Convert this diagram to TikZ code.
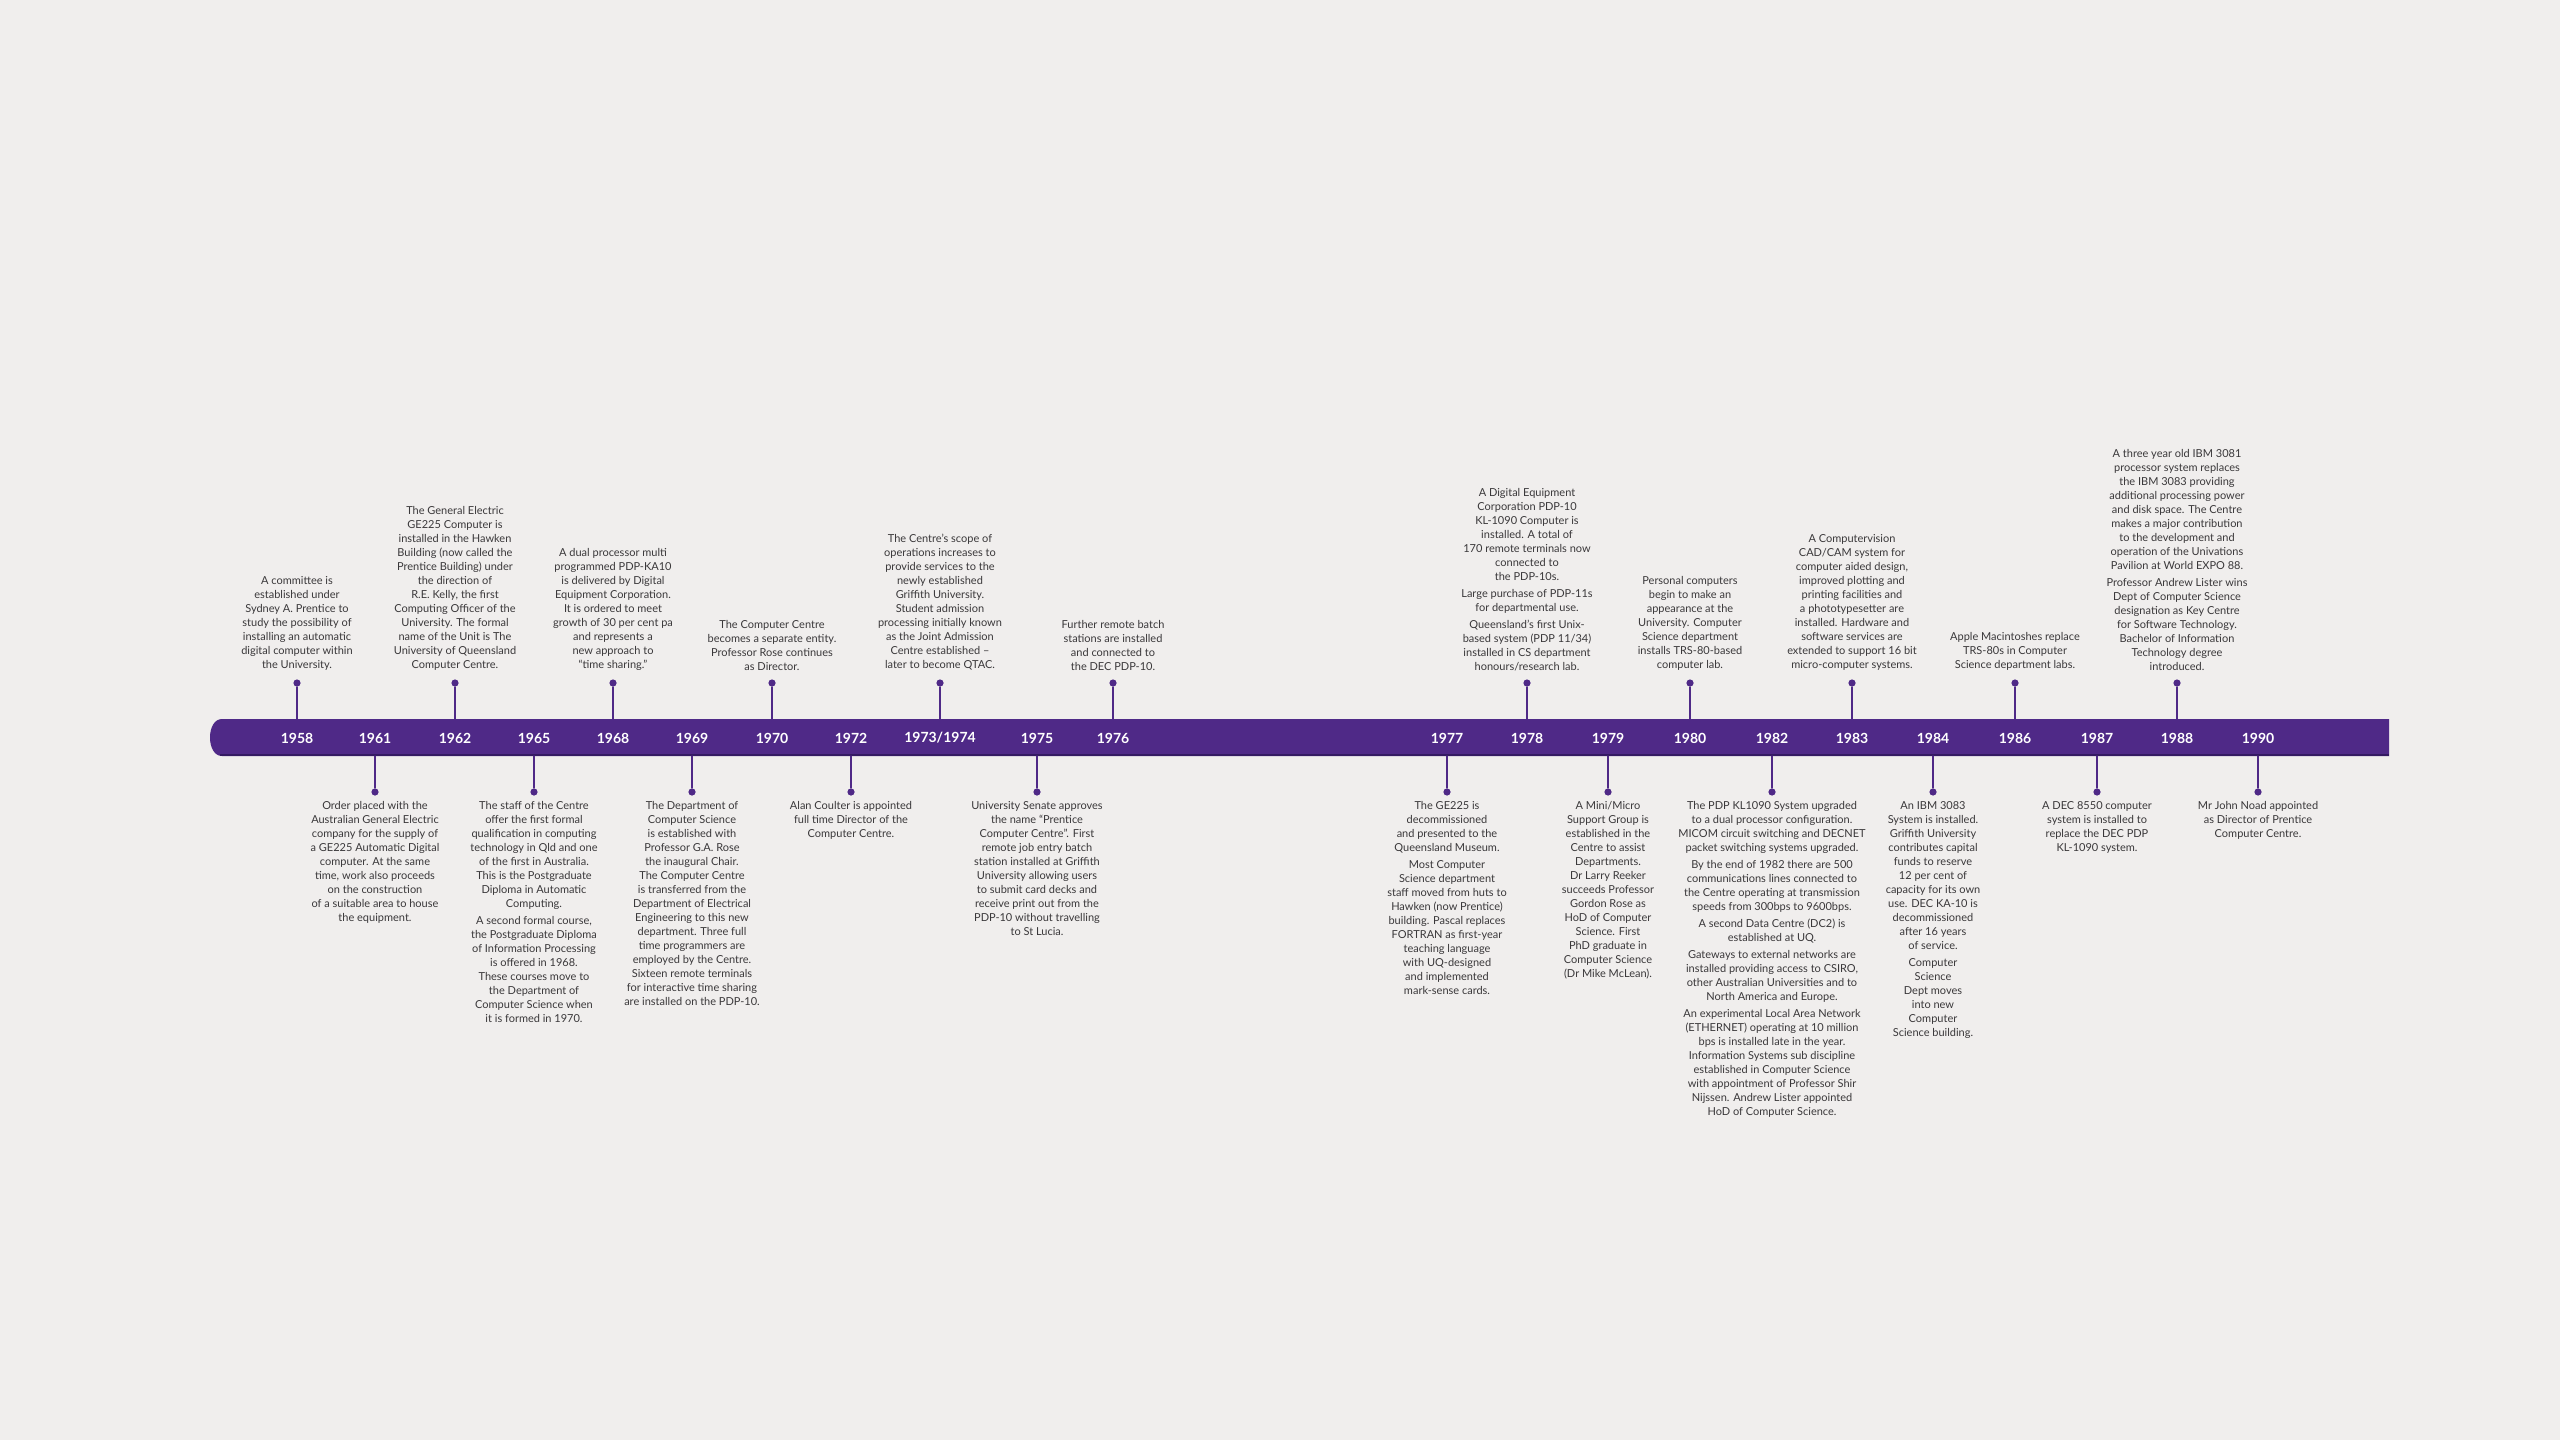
\documentclass[tikz,border=0pt]{standalone}
\usepackage{fontspec}
\setmainfont{Lato}
\usetikzlibrary{positioning}
\definecolor{paper}{RGB}{240,238,237}
\definecolor{uqpurple}{RGB}{79,41,135}
\definecolor{uqshade}{RGB}{52,26,98}
\definecolor{ink}{RGB}{58,56,58}
\begin{document}
\begin{tikzpicture}[x=0.5pt, y=-0.5pt, line join=round, line cap=round,
	font=\fontsize{5.5pt}{7pt}\selectfont,
	yearlbl/.style={text=white, font=\fontsize{7pt}{8pt}\selectfont\bfseries, inner sep=1pt},
	knob/.style={circle, fill=uqpurple, inner sep=0pt, minimum size=3.6pt},
	stemline/.style={draw=uqpurple, line width=0.6pt},
	txtup/.style={align=center, text=ink, inner sep=0pt},
	txtdown/.style={align=center, text=ink, inner sep=0pt}]
	\fill[paper] (0,0) rectangle (2560,1440);
	\useasboundingbox (0,0) rectangle (2560,1440);
	% the bar
	\coordinate (bartop) at (0,719);
	\coordinate (barbot) at (0,756);
	\fill[uqpurple] (2389,719) -- (222,719) .. controls (206,719) and (206,756) .. (222,756) -- (2389,756) -- cycle;
	\draw[uqshade, line width=0.8pt, line cap=butt] (220,755) -- (2389,755);

	% 1958
	\node[yearlbl] (y1958) at (297,738) {1958};
	\node[knob] (k1958) at (297,683) {};
	\draw[stemline] (k1958) -- (k1958 |- bartop);
	\node[txtup, above=4pt of k1958] (n1958) {A committee is\\established under\\Sydney A. Prentice to\\study the possibility of\\installing an automatic\\digital computer within\\the University.};
	% 1961
	\node[yearlbl] (y1961) at (375,738) {1961};
	\node[knob] (k1961) at (375,792) {};
	\draw[stemline] (k1961) -- (k1961 |- barbot);
	\node[txtdown, below=2.5pt of k1961] (n1961) {Order placed with the\\Australian General Electric\\company for the supply of\\a GE225 Automatic Digital\\computer. At the same\\time, work also proceeds\\on the construction\\of a suitable area to house\\the equipment.};
	% 1962
	\node[yearlbl] (y1962) at (455,738) {1962};
	\node[knob] (k1962) at (455,683) {};
	\draw[stemline] (k1962) -- (k1962 |- bartop);
	\node[txtup, above=4pt of k1962] (n1962) {The General Electric\\GE225 Computer is\\installed in the Hawken\\Building (now called the\\Prentice Building) under\\the direction of\\R.E. Kelly, the first\\Computing Officer of the\\University. The formal\\name of the Unit is The\\University of Queensland\\Computer Centre.};
	% 1965
	\node[yearlbl] (y1965) at (534,738) {1965};
	\node[knob] (k1965) at (534,792) {};
	\draw[stemline] (k1965) -- (k1965 |- barbot);
	\node[txtdown, below=2.5pt of k1965] (n1965) {The staff of the Centre\\offer the first formal\\qualification in computing\\technology in Qld and one\\of the first in Australia.\\This is the Postgraduate\\Diploma in Automatic\\Computing.\\[1.5pt]A second formal course,\\the Postgraduate Diploma\\of Information Processing\\is offered in 1968.\\These courses move to\\the Department of\\Computer Science when\\it is formed in 1970.};
	% 1968
	\node[yearlbl] (y1968) at (613,738) {1968};
	\node[knob] (k1968) at (613,683) {};
	\draw[stemline] (k1968) -- (k1968 |- bartop);
	\node[txtup, above=4pt of k1968] (n1968) {A dual processor multi\\programmed PDP-KA10\\is delivered by Digital\\Equipment Corporation.\\It is ordered to meet\\growth of 30 per cent pa\\and represents a\\new approach to\\“time sharing.”};
	% 1969
	\node[yearlbl] (y1969) at (692,738) {1969};
	\node[knob] (k1969) at (692,792) {};
	\draw[stemline] (k1969) -- (k1969 |- barbot);
	\node[txtdown, below=2.5pt of k1969] (n1969) {The Department of\\Computer Science\\is established with\\Professor G.A. Rose\\the inaugural Chair.\\The Computer Centre\\is transferred from the\\Department of Electrical\\Engineering to this new\\department. Three full\\time programmers are\\employed by the Centre.\\Sixteen remote terminals\\for interactive time sharing\\are installed on the PDP-10.};
	% 1970
	\node[yearlbl] (y1970) at (772,738) {1970};
	\node[knob] (k1970) at (772,683) {};
	\draw[stemline] (k1970) -- (k1970 |- bartop);
	\node[txtup, above=4pt of k1970] (n1970) {The Computer Centre\\becomes a separate entity.\\Professor Rose continues\\as Director.};
	% 1972
	\node[yearlbl] (y1972) at (851,738) {1972};
	\node[knob] (k1972) at (851,792) {};
	\draw[stemline] (k1972) -- (k1972 |- barbot);
	\node[txtdown, below=2.5pt of k1972] (n1972) {Alan Coulter is appointed\\full time Director of the\\Computer Centre.};
	% 1973/1974
	\node[yearlbl] (y1973) at (940,738) {1973/1974};
	\node[knob] (k1973) at (940,683) {};
	\draw[stemline] (k1973) -- (k1973 |- bartop);
	\node[txtup, above=4pt of k1973] (n1973) {The Centre’s scope of\\operations increases to\\provide services to the\\newly established\\Griffith University.\\Student admission\\processing initially known\\as the Joint Admission\\Centre established –\\later to become QTAC.};
	% 1975
	\node[yearlbl] (y1975) at (1037,738) {1975};
	\node[knob] (k1975) at (1037,792) {};
	\draw[stemline] (k1975) -- (k1975 |- barbot);
	\node[txtdown, below=2.5pt of k1975] (n1975) {University Senate approves\\the name “Prentice\\Computer Centre”. First\\remote job entry batch\\station installed at Griffith\\University allowing users\\to submit card decks and\\receive print out from the\\PDP-10 without travelling\\to St Lucia.};
	% 1976
	\node[yearlbl] (y1976) at (1113,738) {1976};
	\node[knob] (k1976) at (1113,683) {};
	\draw[stemline] (k1976) -- (k1976 |- bartop);
	\node[txtup, above=4pt of k1976] (n1976) {Further remote batch\\stations are installed\\and connected to\\the DEC PDP-10.};

	% 1977
	\node[yearlbl] (y1977) at (1447,738) {1977};
	\node[knob] (k1977) at (1447,792) {};
	\draw[stemline] (k1977) -- (k1977 |- barbot);
	\node[txtdown, below=2.5pt of k1977] (n1977) {The GE225 is\\decommissioned\\and presented to the\\Queensland Museum.\\[1.5pt]Most Computer\\Science department\\staff moved from huts to\\Hawken (now Prentice)\\building. Pascal replaces\\FORTRAN as first-year\\teaching language\\with UQ-designed\\and implemented\\mark-sense cards.};
	% 1978
	\node[yearlbl] (y1978) at (1527,738) {1978};
	\node[knob] (k1978) at (1527,683) {};
	\draw[stemline] (k1978) -- (k1978 |- bartop);
	\node[txtup, above=4pt of k1978] (n1978) {A Digital Equipment\\Corporation PDP-10\\KL-1090 Computer is\\installed. A total of\\170 remote terminals now\\connected to\\the PDP-10s.\\[1.5pt]Large purchase of PDP-11s\\for departmental use.\\[1.5pt]Queensland’s first Unix-\\based system (PDP 11/34)\\installed in CS department\\honours/research lab.};
	% 1979
	\node[yearlbl] (y1979) at (1608,738) {1979};
	\node[knob] (k1979) at (1608,792) {};
	\draw[stemline] (k1979) -- (k1979 |- barbot);
	\node[txtdown, below=2.5pt of k1979] (n1979) {A Mini/Micro\\Support Group is\\established in the\\Centre to assist\\Departments.\\Dr Larry Reeker\\succeeds Professor\\Gordon Rose as\\HoD of Computer\\Science. First\\PhD graduate in\\Computer Science\\(Dr Mike McLean).};
	% 1980
	\node[yearlbl] (y1980) at (1690,738) {1980};
	\node[knob] (k1980) at (1690,683) {};
	\draw[stemline] (k1980) -- (k1980 |- bartop);
	\node[txtup, above=4pt of k1980] (n1980) {Personal computers\\begin to make an\\appearance at the\\University. Computer\\Science department\\installs TRS-80-based\\computer lab.};
	% 1982
	\node[yearlbl] (y1982) at (1772,738) {1982};
	\node[knob] (k1982) at (1772,792) {};
	\draw[stemline] (k1982) -- (k1982 |- barbot);
	\node[txtdown, below=2.5pt of k1982] (n1982) {The PDP KL1090 System upgraded\\to a dual processor configuration.\\MICOM circuit switching and DECNET\\packet switching systems upgraded.\\[1.5pt]By the end of 1982 there are 500\\communications lines connected to\\the Centre operating at transmission\\speeds from 300bps to 9600bps.\\[1.5pt]A second Data Centre (DC2) is\\established at UQ.\\[1.5pt]Gateways to external networks are\\installed providing access to CSIRO,\\other Australian Universities and to\\North America and Europe.\\[1.5pt]An experimental Local Area Network\\(ETHERNET) operating at 10 million\\bps is installed late in the year.\\Information Systems sub discipline\\established in Computer Science\\with appointment of Professor Shir\\Nijssen. Andrew Lister appointed\\HoD of Computer Science.};
	% 1983
	\node[yearlbl] (y1983) at (1852,738) {1983};
	\node[knob] (k1983) at (1852,683) {};
	\draw[stemline] (k1983) -- (k1983 |- bartop);
	\node[txtup, above=4pt of k1983] (n1983) {A Computervision\\CAD/CAM system for\\computer aided design,\\improved plotting and\\printing facilities and\\a phototypesetter are\\installed. Hardware and\\software services are\\extended to support 16 bit\\micro-computer systems.};
	% 1984
	\node[yearlbl] (y1984) at (1933,738) {1984};
	\node[knob] (k1984) at (1933,792) {};
	\draw[stemline] (k1984) -- (k1984 |- barbot);
	\node[txtdown, below=2.5pt of k1984] (n1984) {An IBM 3083\\System is installed.\\Griffith University\\contributes capital\\funds to reserve\\12 per cent of\\capacity for its own\\use. DEC KA-10 is\\decommissioned\\after 16 years\\of service.\\[1.5pt]Computer\\Science\\Dept moves\\into new\\Computer\\Science building.};
	% 1986
	\node[yearlbl] (y1986) at (2015,738) {1986};
	\node[knob] (k1986) at (2015,683) {};
	\draw[stemline] (k1986) -- (k1986 |- bartop);
	\node[txtup, above=4pt of k1986] (n1986) {Apple Macintoshes replace\\TRS-80s in Computer\\Science department labs.};
	% 1987
	\node[yearlbl] (y1987) at (2097,738) {1987};
	\node[knob] (k1987) at (2097,792) {};
	\draw[stemline] (k1987) -- (k1987 |- barbot);
	\node[txtdown, below=2.5pt of k1987] (n1987) {A DEC 8550 computer\\system is installed to\\replace the DEC PDP\\KL-1090 system.};
	% 1988
	\node[yearlbl] (y1988) at (2177,738) {1988};
	\node[knob] (k1988) at (2177,683) {};
	\draw[stemline] (k1988) -- (k1988 |- bartop);
	\node[txtup, above=4pt of k1988] (n1988) {A three year old IBM 3081\\processor system replaces\\the IBM 3083 providing\\additional processing power\\and disk space. The Centre\\makes a major contribution\\to the development and\\operation of the Univations\\Pavilion at World EXPO 88.\\[1.5pt]Professor Andrew Lister wins\\Dept of Computer Science\\designation as Key Centre\\for Software Technology.\\Bachelor of Information\\Technology degree\\introduced.};
	% 1990
	\node[yearlbl] (y1990) at (2258,738) {1990};
	\node[knob] (k1990) at (2258,792) {};
	\draw[stemline] (k1990) -- (k1990 |- barbot);
	\node[txtdown, below=2.5pt of k1990] (n1990) {Mr John Noad appointed\\as Director of Prentice\\Computer Centre.};
\end{tikzpicture}
\end{document}
